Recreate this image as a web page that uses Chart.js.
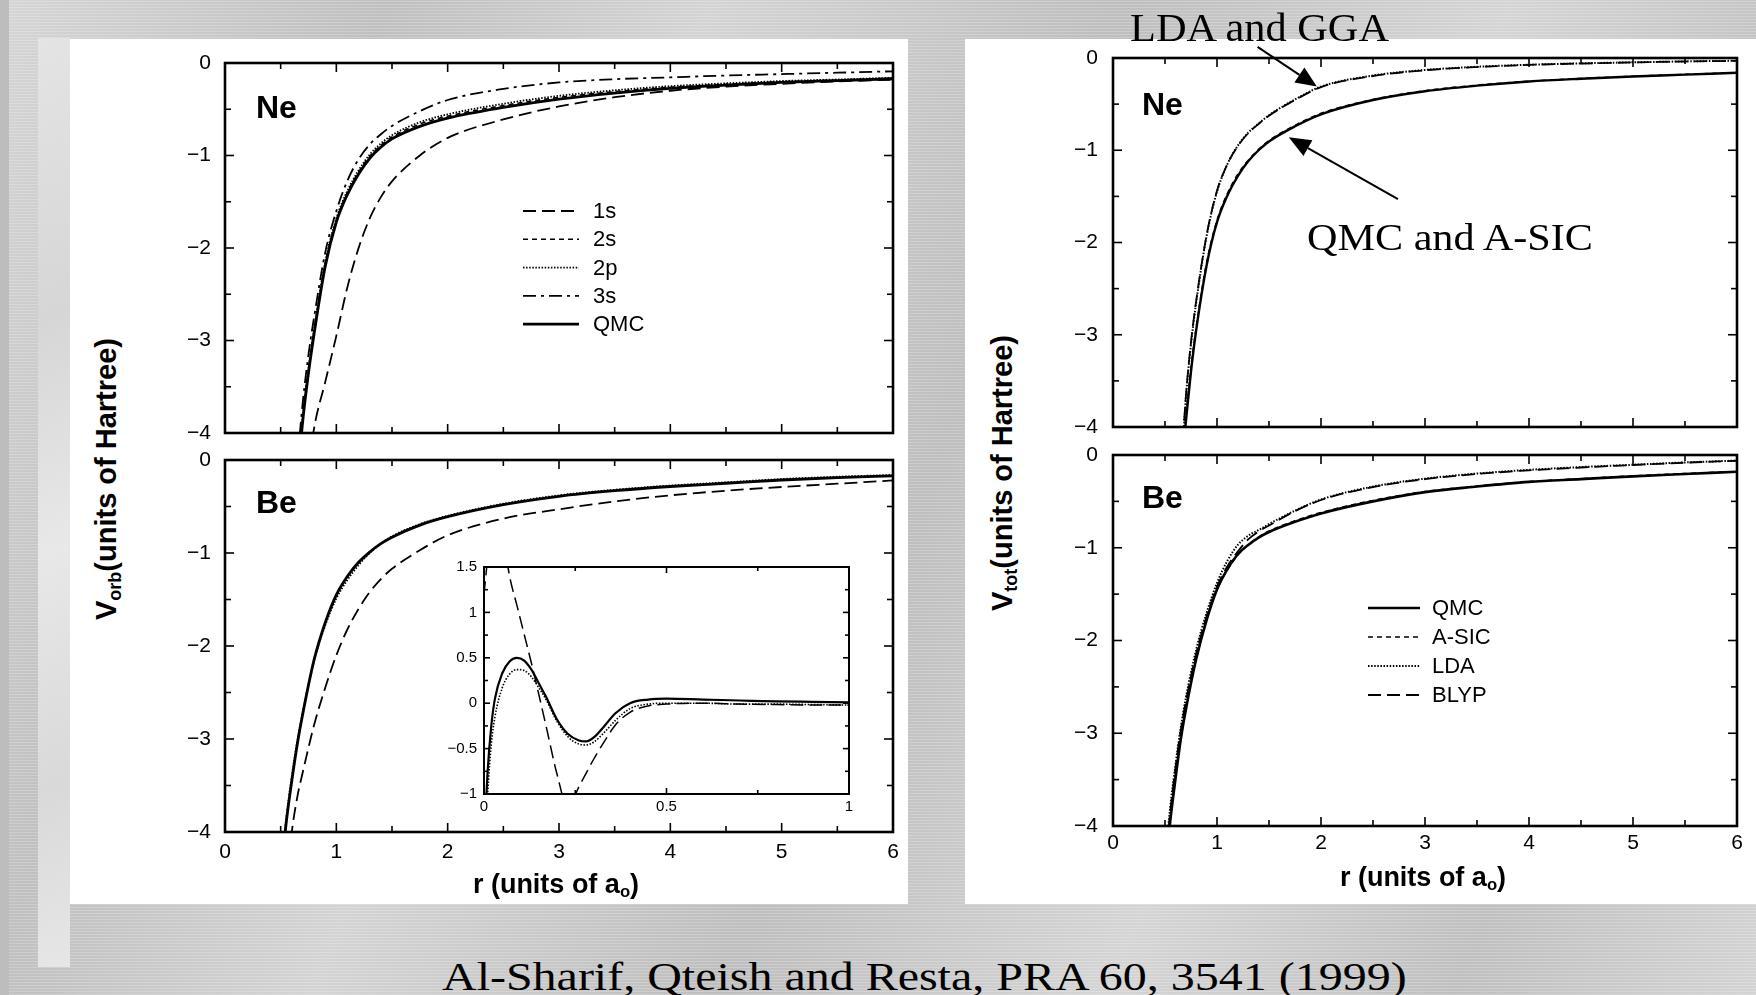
<!DOCTYPE html>
<html>
<head>
<meta charset="utf-8">
<script src="https://cdn.jsdelivr.net/npm/chart.js@4.4.1/dist/chart.umd.min.js"></script>
<style>
  html, body { margin: 0; padding: 0; }
  body {
    width: 1756px; height: 995px; position: relative; overflow: hidden;
    background-color: #cacaca;
    background-image:
      repeating-linear-gradient(0deg, rgba(255,255,255,0.22) 0 1px, rgba(0,0,0,0) 1px 3px),
      linear-gradient(112deg, rgba(255,255,255,0.22) 0%, rgba(0,0,0,0.05) 18%, rgba(255,255,255,0.18) 33%, rgba(0,0,0,0.06) 52%, rgba(255,255,255,0.2) 70%, rgba(0,0,0,0.05) 86%, rgba(255,255,255,0.18) 100%);
  }
  .edge { position: absolute; left: 0; top: 0; width: 9px; height: 995px; background: #bdbdbd; }
  .strip { position: absolute; left: 38px; top: 38px; width: 32px; height: 929px;
    background: linear-gradient(160deg, #e4e4e4, #d6d6d6 30%, #e8e8e8 55%, #d9d9d9 80%, #e6e6e6); }
  .panel { position: absolute; background: #fff; }
  canvas { position: absolute; }
  .sans { position: absolute; font-family: "Liberation Sans", Arial, sans-serif; font-weight: bold;
    color: #000; white-space: nowrap; line-height: 1; }
  .serif { position: absolute; font-family: "Liberation Serif", "Times New Roman", serif;
    color: #000; white-space: nowrap; line-height: 1; transform-origin: 0 0; }
  .rot { transform: translate(-50%, -50%) rotate(-90deg); }
  .ctr { transform: translate(-50%, -50%); }
  sub { font-size: 0.62em; vertical-align: -0.28em; line-height: 0; }
</style>
</head>
<body>
<div class="edge"></div>
<div class="strip"></div>
<div class="panel" style="left:70px;top:39px;width:838px;height:865px"></div>
<div class="panel" style="left:965px;top:39px;width:791px;height:865px"></div>

<canvas id="lNe"></canvas>
<canvas id="lBe"></canvas>
<canvas id="inset"></canvas>
<canvas id="rNe"></canvas>
<canvas id="rBe"></canvas>

<div class="sans" style="left:256px;top:91px;font-size:32px">Ne</div>
<div class="sans" style="left:256px;top:486px;font-size:32px">Be</div>
<div class="sans" style="left:1142px;top:88px;font-size:32px">Ne</div>
<div class="sans" style="left:1142px;top:481px;font-size:32px">Be</div>

<div class="sans rot" style="left:106px;top:479px;font-size:29px">V<sub>orb</sub>(units of Hartree)</div>
<div class="sans rot" style="left:1002px;top:473px;font-size:29px">V<sub>tot</sub>(units of Hartree)</div>
<div class="sans ctr" style="left:556px;top:884px;font-size:27px">r (units of a<sub>o</sub>)</div>
<div class="sans ctr" style="left:1423px;top:877px;font-size:27px">r (units of a<sub>o</sub>)</div>

<div class="serif" style="left:1130px;top:8px;font-size:40px;transform:scaleX(1.06)">LDA and GGA</div>
<div class="serif" style="left:1307px;top:218px;font-size:38px;transform:scaleX(1.11)">QMC and A-SIC</div>
<div class="serif" style="left:442px;top:957px;font-size:39px;transform:scaleX(1.23)">Al-Sharif, Qteish and Resta, PRA 60, 3541 (1999)</div>

<script>
// ---- data ----
const X_TICKS = [0, 1, 2, 3, 4, 5, 6];
const Y_TICKS = [-4, -3, -2, -1, 0];
const INSET_X_TICKS = [0, 0.5, 1];
const INSET_Y_TICKS = [-1, -0.5, 0, 0.5, 1, 1.5];

// Ne, orbital potentials (left top)
const R_NE = [0.65, 0.7, 0.75, 0.8, 0.9, 1.0, 1.1, 1.2, 1.3, 1.4, 1.5, 1.75, 2.0, 2.5, 3.0, 3.5, 4.0, 4.5, 5.0, 5.5, 6.0];
const NE_ORB_1S  = [-5.5, -4.9, -4.4, -3.95, -3.45, -2.95, -2.42, -2.0, -1.68, -1.45, -1.28, -1.0, -0.81, -0.61, -0.47, -0.37, -0.3, -0.255, -0.225, -0.2, -0.18];
const NE_ORB_2S  = [-4.5, -3.82, -3.32, -2.9, -2.17, -1.7, -1.4, -1.18, -1.01, -0.89, -0.8, -0.66, -0.575, -0.46, -0.372, -0.31, -0.262, -0.23, -0.203, -0.184, -0.165];
const NE_ORB_2P  = [-4.5, -3.8, -3.3, -2.88, -2.15, -1.68, -1.38, -1.16, -0.99, -0.87, -0.78, -0.64, -0.555, -0.44, -0.355, -0.295, -0.25, -0.22, -0.195, -0.178, -0.16];
const NE_ORB_3S  = [-4.3, -3.65, -3.15, -2.75, -2.05, -1.6, -1.27, -1.04, -0.88, -0.77, -0.68, -0.52, -0.4, -0.28, -0.21, -0.175, -0.155, -0.135, -0.12, -0.105, -0.09];
const NE_ORB_QMC = [-4.5, -3.85, -3.35, -2.93, -2.2, -1.72, -1.42, -1.2, -1.03, -0.91, -0.82, -0.685, -0.595, -0.48, -0.39, -0.325, -0.275, -0.24, -0.21, -0.19, -0.17];

// Be, orbital potentials (left bottom)
const R_BE = [0.5, 0.55, 0.6, 0.65, 0.7, 0.8, 0.9, 1.0, 1.1, 1.2, 1.3, 1.4, 1.5, 1.75, 2.0, 2.5, 3.0, 3.5, 4.0, 4.5, 5.0, 5.5, 6.0];
const BE_ORB_1S  = [-5.5, -4.6, -4.0, -3.62, -3.35, -2.85, -2.45, -2.1, -1.82, -1.6, -1.42, -1.28, -1.17, -0.97, -0.81, -0.63, -0.53, -0.445, -0.38, -0.33, -0.29, -0.255, -0.22];
const BE_ORB_2S  = [-4.4, -3.85, -3.4, -3.02, -2.7, -2.16, -1.78, -1.49, -1.29, -1.13, -1.0, -0.9, -0.82, -0.69, -0.6, -0.47, -0.38, -0.32, -0.275, -0.24, -0.205, -0.18, -0.16];
const BE_ORB_QMC = [-4.5, -3.9, -3.45, -3.05, -2.72, -2.15, -1.75, -1.45, -1.25, -1.1, -0.99, -0.9, -0.83, -0.7, -0.61, -0.48, -0.39, -0.33, -0.285, -0.25, -0.215, -0.19, -0.17];

// Be inset, r from 0 to 1
const R_INSET = [0, 0.01, 0.02, 0.03, 0.05, 0.07, 0.09, 0.11, 0.13, 0.15, 0.17, 0.2, 0.23, 0.26, 0.28, 0.3, 0.33, 0.36, 0.4, 0.45, 0.5, 0.6, 0.7, 0.8, 0.9, 1.0];
const INSET_QMC = [-1.6, -0.75, -0.25, 0.05, 0.33, 0.46, 0.5, 0.47, 0.37, 0.22, 0.07, -0.18, -0.34, -0.41, -0.42, -0.38, -0.25, -0.11, 0.0, 0.04, 0.05, 0.04, 0.03, 0.02, 0.015, 0.01];
const INSET_2S  = [-1.8, -1.0, -0.45, -0.15, 0.17, 0.32, 0.37, 0.36, 0.29, 0.17, 0.04, -0.2, -0.37, -0.45, -0.46, -0.43, -0.32, -0.19, -0.06, -0.01, 0.0, 0.0, -0.01, -0.01, -0.015, -0.02];
const INSET_1S  = [1.2, 1.6, 1.95, 2.1, 1.9, 1.4, 1.08, 0.76, 0.44, 0.1, -0.25, -0.78, -1.15, -0.92, -0.77, -0.62, -0.42, -0.24, -0.1, -0.03, -0.01, 0.0, -0.01, -0.015, -0.02, -0.02];

// Ne, total potentials (right top)
const TOT_NE_QMC  = [-4.5, -3.95, -3.4, -2.95, -2.25, -1.78, -1.49, -1.28, -1.12, -1.0, -0.905, -0.74, -0.61, -0.455, -0.36, -0.3, -0.255, -0.225, -0.2, -0.18, -0.16];
const TOT_NE_ASIC = [-4.45, -3.9, -3.36, -2.92, -2.22, -1.76, -1.47, -1.26, -1.11, -0.99, -0.895, -0.73, -0.6, -0.45, -0.355, -0.295, -0.252, -0.222, -0.198, -0.178, -0.158];
const TOT_NE_LDA  = [-4.6, -3.7, -3.1, -2.65, -1.93, -1.45, -1.15, -0.95, -0.81, -0.71, -0.62, -0.45, -0.31, -0.19, -0.13, -0.095, -0.073, -0.058, -0.047, -0.037, -0.03];
const TOT_NE_GGA  = [-4.55, -3.68, -3.08, -2.63, -1.92, -1.44, -1.15, -0.955, -0.815, -0.715, -0.625, -0.455, -0.315, -0.195, -0.133, -0.098, -0.075, -0.06, -0.048, -0.038, -0.031];

// Be, total potentials (right bottom)
const TOT_BE_QMC  = [-4.5, -3.95, -3.5, -3.08, -2.75, -2.2, -1.78, -1.45, -1.23, -1.07, -0.97, -0.89, -0.83, -0.72, -0.63, -0.5, -0.4, -0.34, -0.29, -0.26, -0.23, -0.205, -0.18];
const TOT_BE_ASIC = [-4.45, -3.9, -3.45, -3.05, -2.72, -2.18, -1.77, -1.45, -1.24, -1.08, -0.97, -0.885, -0.82, -0.71, -0.62, -0.49, -0.395, -0.335, -0.287, -0.255, -0.226, -0.2, -0.178];
const TOT_BE_LDA  = [-4.4, -3.8, -3.35, -2.95, -2.62, -2.1, -1.7, -1.38, -1.14, -0.97, -0.87, -0.81, -0.745, -0.6, -0.48, -0.34, -0.255, -0.2, -0.16, -0.13, -0.105, -0.08, -0.06];
const TOT_BE_BLYP = [-4.45, -3.85, -3.38, -2.98, -2.66, -2.14, -1.74, -1.42, -1.2, -1.04, -0.91, -0.825, -0.76, -0.605, -0.485, -0.345, -0.26, -0.205, -0.165, -0.135, -0.108, -0.083, -0.062];

// ---- styles ----
const SOLID = [];
const LONG_DASH = [13, 6];
const SHORT_DASH = [5, 4];
const DOTTED = [1.5, 1.6];
const DASH_DOT = [13, 5, 3, 5];
const SANS = '"Liberation Sans", Arial, sans-serif';

const fmt = (v) => (v < 0 ? "\u2212" + Math.abs(v) : String(v));

function series(label, r, v, dash, width) {
  return { label, r, v, dash, width };
}

// frame + inward ticks on all four sides, minor ticks halfway between majors
function frameTicks(spec) {
  return {
    id: "frameTicks",
    afterDatasetsDraw(chart) {
      const { ctx, chartArea: a, scales } = chart;
      const x = scales.x, y = scales.y;
      const mids = (t) => t.slice(1).map((v, i) => (v + t[i]) / 2);
      ctx.save();
      ctx.strokeStyle = "#000";
      ctx.lineWidth = spec.tickWidth;
      const seg = (x1, y1, x2, y2) => { ctx.beginPath(); ctx.moveTo(x1, y1); ctx.lineTo(x2, y2); ctx.stroke(); };
      const xt = (vals, len) => vals.forEach((v) => {
        const p = x.getPixelForValue(v);
        seg(p, a.bottom, p, a.bottom - len);
        seg(p, a.top, p, a.top + len);
      });
      const yt = (vals, len) => vals.forEach((v) => {
        const p = y.getPixelForValue(v);
        seg(a.left, p, a.left + len, p);
        seg(a.right, p, a.right - len, p);
      });
      xt(spec.xTicks, spec.major); xt(mids(spec.xTicks), spec.minor);
      yt(spec.yTicks, spec.major); yt(mids(spec.yTicks), spec.minor);
      ctx.lineWidth = spec.frame;
      ctx.strokeRect(a.left, a.top, a.right - a.left, a.bottom - a.top);
      ctx.restore();
    },
  };
}

// legend drawn inside the plot: a line sample in the dataset's own dash, then its label
function lineLegend(spec) {
  return {
    id: "lineLegend",
    afterDraw(chart) {
      if (!spec) return;
      const { ctx, chartArea: a } = chart;
      ctx.save();
      ctx.font = `22px ${SANS}`;
      ctx.textBaseline = "middle";
      ctx.fillStyle = "#000";
      ctx.strokeStyle = "#000";
      spec.order.forEach((idx, k) => {
        const ds = chart.data.datasets[idx];
        const yy = a.top + spec.y + k * spec.step;
        ctx.lineWidth = ds.borderWidth;
        ctx.setLineDash(ds.borderDash);
        ctx.beginPath();
        ctx.moveTo(a.left + spec.x, yy);
        ctx.lineTo(a.left + spec.x + spec.len, yy);
        ctx.stroke();
        ctx.setLineDash([]);
        ctx.fillText(ds.label, a.left + spec.tx, yy + 1);
      });
      ctx.restore();
    },
  };
}

// annotation arrows, given in data units of the panel
function arrows(list) {
  return {
    id: "arrows",
    afterDraw(chart) {
      if (!list) return;
      const { ctx, scales: { x, y } } = chart;
      ctx.save();
      ctx.strokeStyle = "#000";
      ctx.fillStyle = "#000";
      ctx.lineWidth = 2;
      list.forEach((ar) => {
        const x1 = x.getPixelForValue(ar.from[0]), y1 = y.getPixelForValue(ar.from[1]);
        const x2 = x.getPixelForValue(ar.to[0]), y2 = y.getPixelForValue(ar.to[1]);
        const len = Math.hypot(x2 - x1, y2 - y1);
        const ux = (x2 - x1) / len, uy = (y2 - y1) / len;
        const bx = x2 - ux * ar.head, by = y2 - uy * ar.head;
        ctx.beginPath(); ctx.moveTo(x1, y1); ctx.lineTo(bx, by); ctx.stroke();
        ctx.beginPath();
        ctx.moveTo(x2, y2);
        ctx.lineTo(bx - uy * ar.half, by + ux * ar.half);
        ctx.lineTo(bx + uy * ar.half, by - ux * ar.half);
        ctx.closePath(); ctx.fill();
      });
      ctx.restore();
    },
  };
}

function makePanel(id, box, cfg) {
  const pad = cfg.pad;
  const cv = document.getElementById(id);
  const W = box.w + pad.l + pad.r, H = box.h + pad.t + pad.b;
  cv.width = W; cv.height = H;
  cv.style.left = box.x - pad.l + "px";
  cv.style.top = box.y - pad.t + "px";
  cv.style.width = W + "px";
  cv.style.height = H + "px";

  return new Chart(cv, {
    type: "line",
    data: {
      datasets: cfg.series.map((s) => ({
        label: s.label,
        data: s.r.map((r, i) => ({ x: r, y: s.v[i] })),
        borderColor: "#000",
        borderWidth: s.width,
        borderDash: s.dash,
        pointRadius: 0,
        fill: false,
        cubicInterpolationMode: "monotone",
      })),
    },
    options: {
      responsive: false,
      animation: false,
      devicePixelRatio: 1,
      layout: { padding: { top: pad.t, right: pad.r, left: 0, bottom: 0 } },
      plugins: { legend: { display: false }, tooltip: { enabled: false } },
      scales: {
        x: {
          type: "linear", min: cfg.xTicks[0], max: cfg.xTicks[cfg.xTicks.length - 1],
          afterFit: (s) => { s.height = pad.b; },
          afterBuildTicks: (s) => { s.ticks = cfg.xTicks.map((v) => ({ value: v })); },
          grid: { display: false, drawTicks: false, tickLength: 0 }, border: { display: false },
          ticks: {
            display: cfg.xLabels, padding: cfg.xPad, color: "#000", autoSkip: false, maxRotation: 0,
            font: { family: SANS, size: cfg.fontSize }, callback: fmt,
          },
        },
        y: {
          type: "linear", min: cfg.yTicks[0], max: cfg.yTicks[cfg.yTicks.length - 1],
          afterFit: (s) => { s.width = pad.l; },
          afterBuildTicks: (s) => { s.ticks = cfg.yTicks.map((v) => ({ value: v })); },
          grid: { display: false, drawTicks: false, tickLength: 0 }, border: { display: false },
          ticks: {
            padding: cfg.yPad, color: "#000", autoSkip: false,
            font: { family: SANS, size: cfg.fontSize }, callback: fmt,
          },
        },
      },
    },
    plugins: [
      frameTicks({ xTicks: cfg.xTicks, yTicks: cfg.yTicks, major: cfg.major, minor: cfg.minor, tickWidth: 1.6, frame: cfg.frame }),
      lineLegend(cfg.legend),
      arrows(cfg.arrows),
    ],
  });
}

const MAIN = { xTicks: X_TICKS, yTicks: Y_TICKS, fontSize: 21, major: 9, minor: 6, frame: 2.6 };

makePanel("lNe", { x: 225, y: 63, w: 668, h: 370 }, {
  ...MAIN, pad: { l: 80, t: 40, r: 14, b: 40 }, xLabels: false, xPad: 8, yPad: 14,
  series: [
    series("1s", R_NE, NE_ORB_1S, LONG_DASH, 1.8),
    series("2s", R_NE, NE_ORB_2S, SHORT_DASH, 1.6),
    series("2p", R_NE, NE_ORB_2P, DOTTED, 1.8),
    series("3s", R_NE, NE_ORB_3S, DASH_DOT, 1.8),
    series("QMC", R_NE, NE_ORB_QMC, SOLID, 2.8),
  ],
  legend: { order: [0, 1, 2, 3, 4], x: 298, len: 56, tx: 368, y: 148, step: 28.3 },
});

makePanel("lBe", { x: 225, y: 460, w: 668, h: 372 }, {
  ...MAIN, pad: { l: 80, t: 40, r: 14, b: 40 }, xLabels: true, xPad: 8, yPad: 14,
  series: [
    series("1s", R_BE, BE_ORB_1S, LONG_DASH, 1.8),
    series("2s", R_BE, BE_ORB_2S, DOTTED, 1.8),
    series("QMC", R_BE, BE_ORB_QMC, SOLID, 2.8),
  ],
});

makePanel("inset", { x: 484, y: 567, w: 365, h: 227 }, {
  xTicks: INSET_X_TICKS, yTicks: INSET_Y_TICKS, fontSize: 15, major: 6, minor: 4, frame: 2,
  pad: { l: 44, t: 26, r: 12, b: 24 }, xLabels: true, xPad: 4, yPad: 7,
  series: [
    series("1s", R_INSET, INSET_1S, LONG_DASH, 1.5),
    series("2s", R_INSET, INSET_2S, DOTTED, 1.6),
    series("QMC", R_INSET, INSET_QMC, SOLID, 2.2),
  ],
});

makePanel("rNe", { x: 1113, y: 58, w: 624, h: 369 }, {
  ...MAIN, pad: { l: 80, t: 40, r: 14, b: 40 }, xLabels: false, xPad: 5, yPad: 15,
  series: [
    series("GGA", R_NE, TOT_NE_GGA, LONG_DASH, 1.8),
    series("LDA", R_NE, TOT_NE_LDA, DOTTED, 2),
    series("A-SIC", R_NE, TOT_NE_ASIC, SHORT_DASH, 1.6),
    series("QMC", R_NE, TOT_NE_QMC, SOLID, 2.4),
  ],
  arrows: [
    { from: [1.39, 0.12], to: [1.96, -0.31], head: 21, half: 9 },
    { from: [2.74, -1.53], to: [1.69, -0.86], head: 22, half: 9 },
  ],
});

makePanel("rBe", { x: 1113, y: 455, w: 624, h: 371 }, {
  ...MAIN, pad: { l: 80, t: 40, r: 14, b: 40 }, xLabels: true, xPad: 5, yPad: 15,
  series: [
    series("BLYP", R_BE, TOT_BE_BLYP, LONG_DASH, 1.8),
    series("LDA", R_BE, TOT_BE_LDA, DOTTED, 2),
    series("A-SIC", R_BE, TOT_BE_ASIC, SHORT_DASH, 1.6),
    series("QMC", R_BE, TOT_BE_QMC, SOLID, 2.6),
  ],
  legend: { order: [3, 2, 1, 0], x: 255, len: 52, tx: 319, y: 153, step: 29 },
});
</script>
</body>
</html>
